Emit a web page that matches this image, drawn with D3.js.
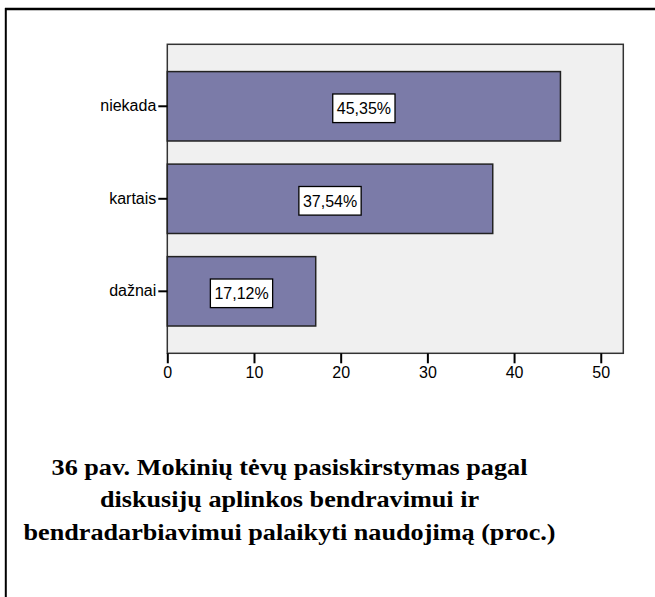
<!DOCTYPE html>
<html>
<head>
<meta charset="utf-8">
<script src="https://cdn.jsdelivr.net/npm/d3@7"></script>
<style>
  body { margin: 0; background: #fff; }
  svg { display: block; }
</style>
</head>
<body>
<svg id="chart" width="655" height="597"></svg>
<script>
// chart values
var categories = ["niekada", "kartais", "dažnai"];
var percents = [45.35, 37.54, 17.12];
var percentLabels = ["45,35%", "37,54%", "17,12%"];
var xTicks = [0, 10, 20, 30, 40, 50];
var captionLines = [
  "36 pav. Mokinių tėvų pasiskirstymas pagal",
  "diskusijų aplinkos bendravimui ir",
  "bendradarbiavimui palaikyti naudojimą (proc.)"
];

var svg = d3.select("#chart");

// page frame (table cell edges)
svg.append("line")
  .attr("x1", 5).attr("x2", 655).attr("y1", 9).attr("y2", 9)
  .attr("stroke", "#000").attr("stroke-width", 2.5);
svg.append("line")
  .attr("x1", 5.8).attr("x2", 5.8).attr("y1", 8).attr("y2", 597)
  .attr("stroke", "#000").attr("stroke-width", 2);

var plot = { left: 167.3, top: 44.3, right: 623.3, bottom: 353.3 };

var x = d3.scaleLinear()
  .domain([0, 52.6])
  .range([plot.left, plot.right]);

var y = d3.scaleBand()
  .domain(categories)
  .range([plot.top, plot.bottom])
  .paddingInner(0.25)
  .paddingOuter(0.295);

// plot background
svg.append("rect")
  .attr("x", plot.left).attr("y", plot.top)
  .attr("width", plot.right - plot.left)
  .attr("height", plot.bottom - plot.top)
  .attr("fill", "#f0f0f0")
  .attr("stroke", "#333")
  .attr("stroke-width", 1.5);

// bars
svg.append("g").selectAll("rect")
  .data(categories)
  .enter().append("rect")
  .attr("x", x(0))
  .attr("y", function(d) { return y(d); })
  .attr("width", function(d, i) { return x(percents[i]) - x(0); })
  .attr("height", y.bandwidth())
  .attr("fill", "#7b7ba8")
  .attr("stroke", "#222")
  .attr("stroke-width", 1.5);

// value labels in white boxes
var labels = svg.append("g").selectAll("g")
  .data(categories)
  .enter().append("g")
  .attr("transform", function(d, i) {
    var cx = (x(0) + x(percents[i])) / 2;
    var cy = y(d) + y.bandwidth() / 2 + 2;
    return "translate(" + cx + "," + cy + ")";
  });

labels.append("text")
  .attr("text-anchor", "middle")
  .attr("dy", "0.36em")
  .style("font-family", "'Liberation Sans', Arial, sans-serif")
  .style("font-size", "16px")
  .attr("fill", "#000")
  .text(function(d, i) { return percentLabels[i]; });

labels.insert("rect", "text")
  .each(function() {
    var t = d3.select(this.parentNode).select("text").node().getBBox();
    d3.select(this)
      .attr("x", -(t.width / 2 + 4))
      .attr("y", -14.3)
      .attr("width", t.width + 8)
      .attr("height", 28.6);
  })
  .attr("fill", "#fff")
  .attr("stroke", "#000")
  .attr("stroke-width", 1.3);

// y axis
var yAxis = svg.append("g")
  .attr("transform", "translate(" + plot.left + ",0)")
  .call(d3.axisLeft(y).tickSize(9).tickPadding(2));
yAxis.select(".domain").remove();
yAxis.selectAll(".tick line").attr("stroke", "#000").attr("stroke-width", 2);
yAxis.selectAll(".tick text")
  .style("font-family", "'Liberation Sans', Arial, sans-serif")
  .style("font-size", "16px")
  .attr("fill", "#000");

// x axis
var xAxis = svg.append("g")
  .attr("transform", "translate(0," + plot.bottom + ")")
  .call(d3.axisBottom(x).tickValues(xTicks).tickSize(10).tickPadding(3));
xAxis.select(".domain").remove();
xAxis.selectAll(".tick line").attr("stroke", "#000").attr("stroke-width", 2);
xAxis.selectAll(".tick text")
  .style("font-family", "'Liberation Sans', Arial, sans-serif")
  .style("font-size", "16px")
  .attr("fill", "#000");

// caption (the source text is horizontally stretched)
svg.append("g")
  .attr("transform", "translate(289.5,0) scale(1.115,1)")
  .append("text")
  .attr("x", 0)
  .attr("y", 475)
  .attr("text-anchor", "middle")
  .style("font-family", "'Liberation Serif', 'Times New Roman', serif")
  .style("font-weight", "bold")
  .style("font-size", "23.5px")
  .attr("fill", "#000")
  .selectAll("tspan")
  .data(captionLines)
  .enter().append("tspan")
  .attr("x", 0)
  .attr("dy", function(d, i) { return i === 0 ? 0 : 32.5; })
  .text(function(d) { return d; });
</script>
</body>
</html>
